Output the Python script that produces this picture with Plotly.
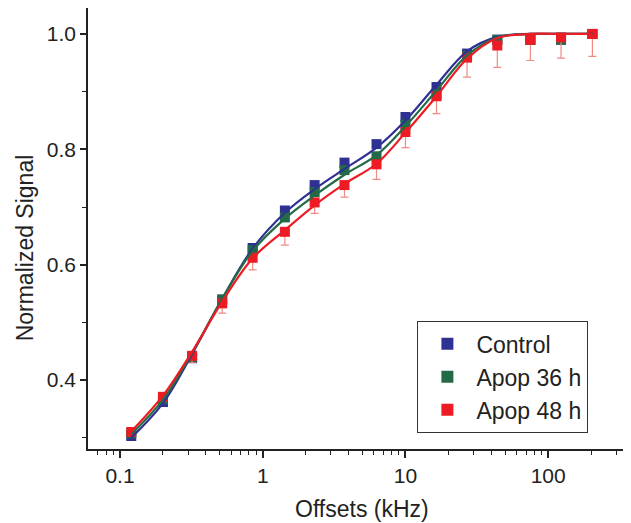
import plotly.graph_objects as go

offsets = [0.12, 0.2, 0.32, 0.52, 0.85, 1.43, 2.31, 3.74, 6.27, 10, 16.5, 27, 44, 75, 123, 204]

control = [0.303, 0.362, 0.438, 0.538, 0.629, 0.694, 0.738, 0.777, 0.809, 0.856, 0.908, 0.966, 0.99, 0.99, 0.99, 1.0]
apop36 = [0.308, 0.367, 0.44, 0.54, 0.625, 0.682, 0.726, 0.764, 0.788, 0.843, 0.895, 0.962, 0.99, 0.99, 0.99, 1.0]
apop48 = [0.31, 0.371, 0.442, 0.533, 0.612, 0.657, 0.708, 0.738, 0.774, 0.830, 0.892, 0.959, 0.98, 0.99, 0.994, 1.0]
apop48_err = [0.005, 0.008, 0.012, 0.017, 0.021, 0.023, 0.019, 0.021, 0.026, 0.027, 0.030, 0.034, 0.038, 0.036, 0.036, 0.039]

fit_control = [0.300, 0.360, 0.445, 0.541, 0.628, 0.690, 0.731, 0.766, 0.803, 0.850, 0.912, 0.970, 0.995, 1.0, 1.0, 1.0]
fit_apop36 = [0.306, 0.366, 0.447, 0.541, 0.624, 0.680, 0.720, 0.756, 0.790, 0.840, 0.902, 0.963, 0.994, 1.0, 1.0, 1.0]
fit_apop48 = [0.311, 0.373, 0.449, 0.536, 0.611, 0.660, 0.703, 0.740, 0.775, 0.829, 0.892, 0.957, 0.993, 1.0, 1.0, 1.0]

names = ["Control", "Apop 36 h", "Apop 48 h"]
colors = ["#2e3192", "#236b47", "#ed1c24"]
err_color = "#f08a82"

x_title = "Offsets (kHz)"
y_title = "Normalized Signal"

FONT = "Liberation Sans, Arial, sans-serif"
TXT = "#222222"

fig = go.Figure()

series = [control, apop36, apop48]
fits = [fit_control, fit_apop36, fit_apop48]

for i, (nm, col, ys) in enumerate(zip(names, colors, series)):
    kw = {}
    if i == 2:
        kw["error_y"] = dict(type="data", symmetric=False, array=[0] * len(apop48_err),
                             arrayminus=apop48_err, color=err_color, thickness=1.2, width=4)
    fig.add_trace(go.Scatter(x=offsets, y=ys, mode="markers", name=nm,
                             marker=dict(symbol="square", size=10, color=col, line=dict(width=0)),
                             **kw))

for nm, col, ys in zip(names, colors, fits):
    fig.add_trace(go.Scatter(x=offsets, y=ys, mode="lines", name=nm, showlegend=False,
                             line=dict(color=col, width=2.2, shape="spline", smoothing=1.0)))

W, H = 623, 515
fig.update_layout(
    width=W, height=H,
    margin=dict(l=80, r=0, t=0, b=74, autoexpand=False),
    paper_bgcolor="white", plot_bgcolor="white",
    font=dict(family=FONT, size=21, color=TXT),
    showlegend=True,
    legend=dict(xref="container", yref="container", x=409 / W, y=1 - 313 / H,
                xanchor="left", yanchor="top",
                bordercolor="#333333", borderwidth=1.4, bgcolor="white",
                font=dict(size=23, family=FONT, color=TXT),
                itemsizing="constant", tracegroupgap=0, itemwidth=48),
    annotations=[
        dict(text=y_title, xref="paper", yref="paper", x=0, y=0.455, xanchor="center",
             yanchor="middle", xshift=-63, textangle=-90, showarrow=False,
             font=dict(size=23, family=FONT, color=TXT)),
        dict(text=x_title, xref="paper", yref="paper", x=0.505, y=0, xanchor="center",
             yanchor="middle", yshift=-60, showarrow=False,
             font=dict(size=23, family=FONT, color=TXT)),
    ],
)

fig.update_xaxes(
    type="log", range=[-1.224, 2.58],
    showline=True, linecolor="#222222", linewidth=1.6,
    ticks="outside", ticklen=7, tickwidth=1.5, tickcolor="#222222",
    tickvals=[0.1, 1, 10, 100], ticktext=["0.1", "1", "10", "100"],
    minor=dict(ticks="outside", ticklen=4, tickwidth=1.2, tickcolor="#222222",
               tickvals=[0.07, 0.08, 0.09, 0.2, 0.3, 0.4, 0.5, 0.6, 0.7, 0.8, 0.9,
                         2, 3, 4, 5, 6, 7, 8, 9, 20, 30, 40, 50, 60, 70, 80, 90, 200, 300]),
    showgrid=False, zeroline=False, mirror=False,
    tickfont=dict(size=21, family=FONT),
)

fig.update_yaxes(
    range=[0.2805, 1.045],
    showline=True, linecolor="#222222", linewidth=1.6,
    ticks="outside", ticklen=6, tickwidth=1.5, tickcolor="#222222",
    tickvals=[0.4, 0.6, 0.8, 1.0], ticktext=["0.4", "0.6", "0.8", "1.0"],
    minor=dict(ticks="outside", ticklen=4, tickwidth=1.2, tickcolor="#222222",
               tickvals=[0.3, 0.5, 0.7, 0.9]),
    showgrid=False, zeroline=False,
    tickfont=dict(size=21, family=FONT),
)

fig.write_html("out.html")
